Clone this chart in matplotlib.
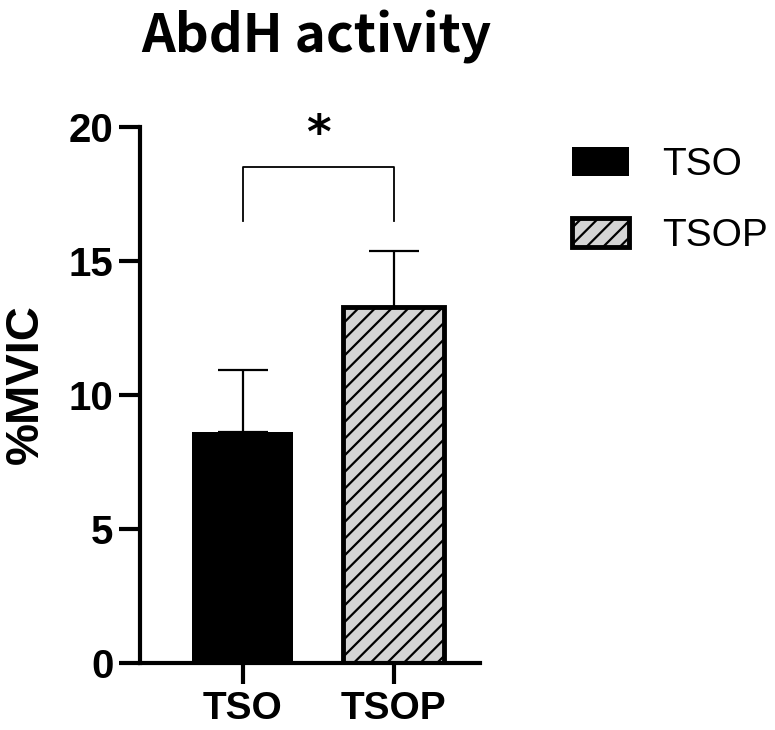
import matplotlib
matplotlib.use("Agg")
from matplotlib import pyplot

# 데이터
groups = ["TSO", "TSOP"]
means = [8.62, 13.28]
sd_upper = [2.31, 2.09]
colors = ["#000000", "#d4d4d4"]
hatches = ["", "//"]
sig_text = "*"
sig_y = 18.5
sig_drop = 16.5

pyplot.rcParams["hatch.linewidth"] = 1.6
pyplot.rcParams["hatch.color"] = "black"

fig = pyplot.figure(figsize=(7.75, 7.3), dpi=100)
ax = fig.add_axes([140 / 775, 1 - 663 / 730, 340 / 775, (663 - 127) / 730])

x = list(range(len(groups)))
for i in x:
    ax.bar(i, means[i], width=0.67, color=colors[i], edgecolor="black",
           linewidth=3.5 if i == 1 else 0, hatch=hatches[i], label=groups[i], zorder=2)
    ax.errorbar(i, means[i], yerr=[[0], [sd_upper[i]]], fmt="none", ecolor="black",
                elinewidth=1.6, capsize=18, capthick=1.6, zorder=1)

# 유의성 표시
ax.plot([0, 0, 1, 1], [sig_drop, sig_y, sig_y, sig_drop], color="black", linewidth=1.3,
        clip_on=False)
ax.text(0.5, sig_y + 0.35, sig_text, ha="center", va="bottom", fontsize=34,
        fontweight="bold", family="DejaVu Sans")

ax.set_xlim(-0.68, 1.57)
ax.set_ylim(0, 20)
ax.set_yticks([0, 5, 10, 15, 20])
ax.set_xticks(x)
ax.set_xticklabels(groups)

ax.spines["top"].set_visible(False)
ax.spines["right"].set_visible(False)
ax.spines["left"].set_linewidth(3)
ax.spines["bottom"].set_linewidth(3)
ax.tick_params(axis="both", width=3, length=15, labelsize=28)
ax.tick_params(axis="y", pad=4, labelsize=29)
ax.tick_params(axis="x", pad=5)
for lab in ax.get_xticklabels() + ax.get_yticklabels():
    lab.set_fontfamily("Liberation Sans")
    lab.set_fontweight("bold")

ax.set_ylabel("%MVIC", fontsize=34, fontweight="bold", family="Liberation Sans")
ax.yaxis.set_label_coords(-0.27, 0.52)

fig.text(316 / 775, 1 - 52 / 730, "AbdH activity", ha="center", va="baseline",
         fontsize=38, fontweight="bold", family=["Noto Sans CJK KR", "DejaVu Sans"])

leg = ax.legend(loc="upper left", bbox_to_anchor=(572 / 775, 1 - 147 / 730),
                bbox_transform=fig.transFigure, frameon=False, borderpad=0,
                borderaxespad=0, handlelength=1.46, handleheight=0.74,
                handletextpad=0.85, labelspacing=0.9,
                prop={"family": "Liberation Sans", "size": 28})

fig.savefig("out.png", dpi=100)
